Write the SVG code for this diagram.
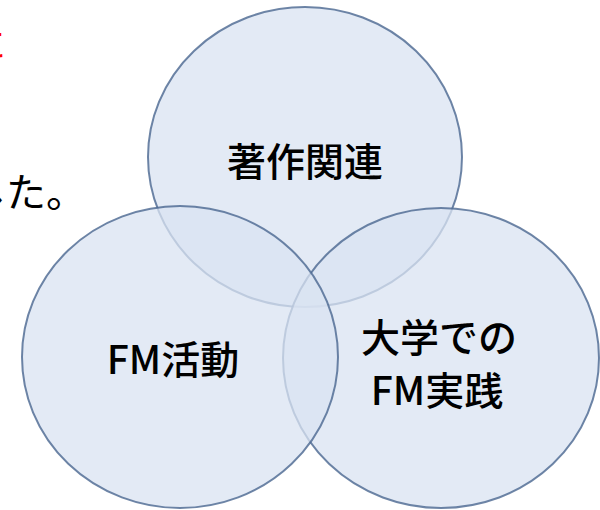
<svg xmlns="http://www.w3.org/2000/svg" width="600" height="510" viewBox="0 0 600 510">
<style>
.c{fill:#dae3f1;fill-opacity:0.75;stroke:#4a6690;stroke-width:2;stroke-opacity:0.8}
.t{font-family:"Noto Sans CJK JP","Noto Sans",sans-serif;font-size:39px;font-weight:500;fill:#000;text-anchor:middle}
.bg{font-family:"Noto Sans CJK JP",sans-serif}
</style>
<rect width="600" height="510" fill="#fff"/>
<text class="bg" x="6" y="58" font-size="36" fill="#ff0000" text-anchor="end">に</text>
<text class="bg" x="86" y="207" font-size="40" fill="#000" text-anchor="end">した。</text>
<g id="top"><ellipse class="c" cx="305" cy="157" rx="157" ry="150"/><text class="t" x="305" y="176">著作関連</text></g>
<g id="right"><ellipse class="c" cx="441" cy="358" rx="158" ry="150"/><text class="t" x="439" y="352">大学での</text><text class="t" x="437" y="405">FM実践</text></g>
<g id="left"><ellipse class="c" cx="180" cy="357" rx="158" ry="151"/><text class="t" x="173" y="374">FM活動</text></g>
<g id="connectors"></g>
</svg>
